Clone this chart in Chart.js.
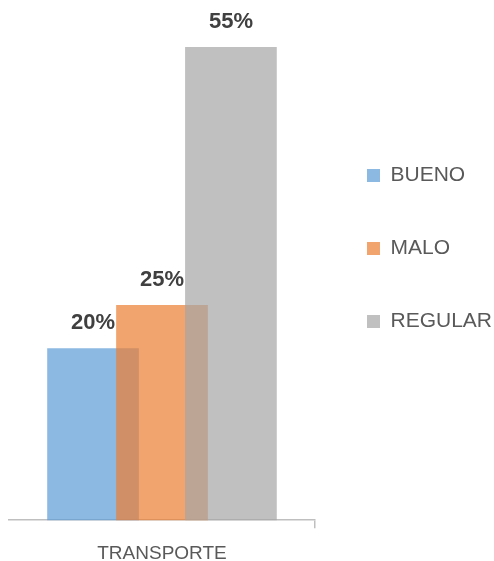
<!DOCTYPE html>
<html>
<head>
<meta charset="utf-8">
<script src="https://cdn.jsdelivr.net/npm/chart.js@4.4.1/dist/chart.umd.min.js"></script>
<style>
  html, body { margin: 0; padding: 0; background: #fff; }
</style>
</head>
<body>
<canvas id="myChart" width="494" height="561"></canvas>
<script>
'use strict'

// datos
var categories = ['TRANSPORTE'];
var seriesNames = ['BUENO', 'MALO', 'REGULAR'];
var bueno = [20];
var malo = [25];
var regular = [55];

var seriesColors = ['rgba(91,155,213,0.7)', 'rgba(237,125,49,0.7)', 'rgba(165,165,165,0.7)'];
var fontFamily = '"Liberation Sans", Arial, sans-serif';

// barras superpuestas: la ultima serie encima, etiquetas arriba
var overlapPlugin = {
  id: 'overlap',
  beforeDatasetsDraw: function(chart) {
    chart.data.datasets.forEach(function(ds, i) {
      chart.getDatasetMeta(i).controller.draw();
    });
    return false;
  },
  afterDraw: function(chart) {
    var ctx = chart.ctx;
    ctx.save();
    ctx.font = 'bold 22px ' + fontFamily;
    ctx.fillStyle = '#404040';
    ctx.textAlign = 'center';
    ctx.textBaseline = 'middle';
    chart.data.datasets.forEach(function(ds, i) {
      chart.getDatasetMeta(i).data.forEach(function(bar, j) {
        ctx.fillText(ds.data[j] + '%', bar.x, bar.y - 25);
      });
    });
    ctx.restore();
  }
};

var ctx = document.getElementById('myChart').getContext('2d');
var chart = new Chart(ctx, {
  type: 'bar',
  data: {
    labels: categories,
    datasets: [bueno, malo, regular].map(function(values, i) {
      return {
        label: seriesNames[i],
        data: values,
        backgroundColor: seriesColors[i],
        borderWidth: 0,
        categoryPercentage: 0.676,
        barPercentage: 1.33
      };
    })
  },
  plugins: [overlapPlugin],
  options: {
    responsive: false,
    animation: false,
    layout: { padding: { top: 4, left: 9, right: -8, bottom: -18 } },
    scales: {
      x: {
        offset: true,
        grid: {
          offset: true,
          drawOnChartArea: false,
          tickLength: 8,
          lineWidth: 1.5,
          color: function(c) { return c.index === 0 ? 'rgba(0,0,0,0)' : '#bfbfbf'; }
        },
        border: { color: '#bfbfbf', width: 1.5 },
        ticks: { color: '#595959', padding: 14, font: { size: 19, family: fontFamily } }
      },
      y: { display: false, min: 0, max: 60 }
    },
    plugins: {
      tooltip: { enabled: false },
      legend: {
        position: 'right',
        align: 'start',
        title: { display: true, text: '', padding: { top: 97, bottom: 0 }, font: { size: 10 } },
        labels: {
          boxWidth: 13,
          boxHeight: 13,
          padding: 52,
          color: '#595959',
          font: { size: 21, family: fontFamily }
        }
      }
    }
  }
});
</script>
</body>
</html>
